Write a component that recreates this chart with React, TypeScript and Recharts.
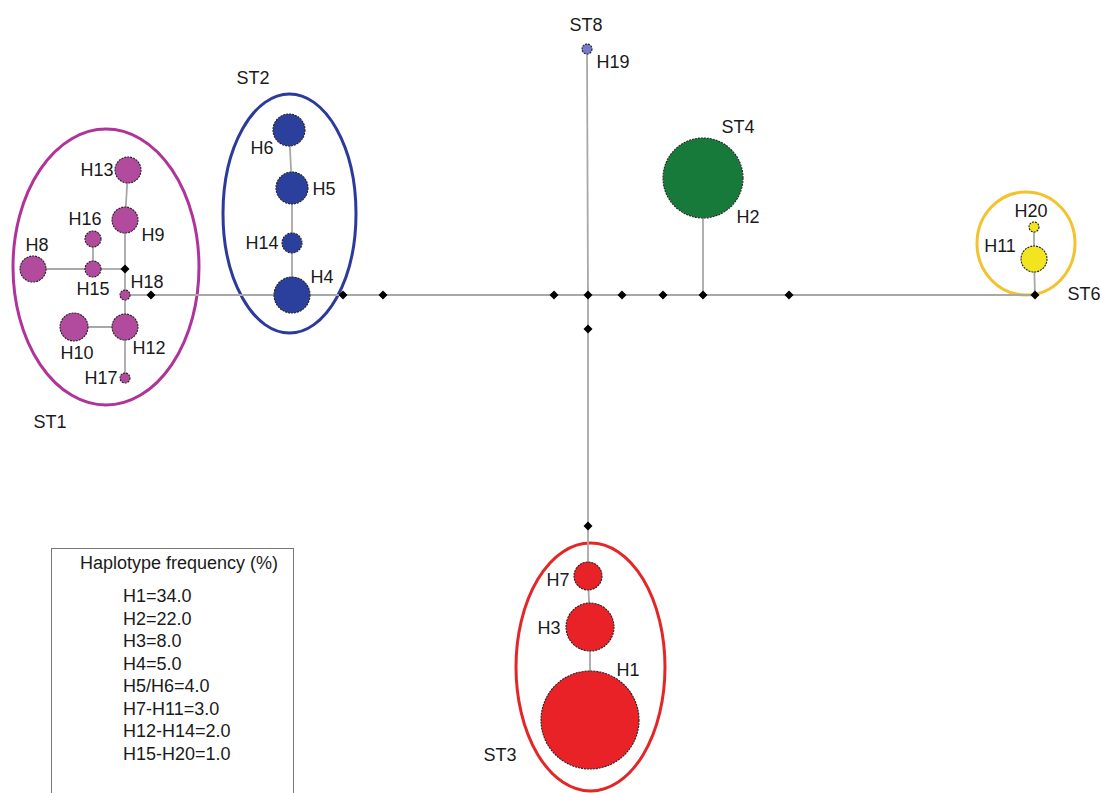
import React from 'react';
import { ScatterChart, Scatter, XAxis, YAxis, ReferenceLine, ReferenceArea } from 'recharts';

const W = 1101;
const H = 793;

// Haplotype nodes (network layout coordinates, radius ~ frequency)
const hapIds = ['H1', 'H2', 'H3', 'H4', 'H5', 'H6', 'H7', 'H8', 'H9', 'H10', 'H11', 'H12', 'H13', 'H14', 'H15', 'H16', 'H17', 'H18', 'H19', 'H20'];
const hapX = [590, 703, 590, 292, 292, 289, 588, 33, 125, 74, 1034, 125, 128, 292, 93, 93, 125, 125, 587, 1034];
const hapY = [720, 178, 627, 295, 188, 130, 576, 269, 220, 327, 259, 327, 170, 243, 269, 239, 378, 295, 49, 227];
const hapR = [49, 40, 24, 18, 16, 16, 14, 13, 13, 14, 13, 13, 13, 10, 8, 8, 5, 5, 5, 5];
const hapGroup = ['ST3', 'ST4', 'ST3', 'ST2', 'ST2', 'ST2', 'ST3', 'ST1', 'ST1', 'ST1', 'ST6', 'ST1', 'ST1', 'ST2', 'ST1', 'ST1', 'ST1', 'ST1', 'ST8', 'ST6'];

// Median vectors (black diamonds)
const mvIds = ['m1', 'm2', 'm3', 'm4', 'm5', 'm6', 'm7', 'm8', 'm9', 'm10', 'm11', 'm12', 'ST6'];
const mvX = [125, 151, 343, 383, 554, 588, 622, 663, 703, 789, 588, 588, 1035];
const mvY = [269, 295, 295, 295, 295, 295, 295, 295, 295, 295, 329, 526, 295];

// Network edges
const edgeFrom = ['H18', 'm2', 'H4', 'm3', 'm4', 'm5', 'm6', 'm7', 'm8', 'm9', 'm10', 'H19', 'm6', 'm11', 'm12', 'H7', 'H3', 'H2', 'H13', 'H9', 'm1', 'H18', 'H12', 'H12', 'm1', 'H15', 'H15', 'H6', 'H5', 'H14', 'H20', 'H11'];
const edgeTo = ['m2', 'H4', 'm3', 'm4', 'm5', 'm6', 'm7', 'm8', 'm9', 'm10', 'ST6', 'm6', 'm11', 'm12', 'H7', 'H3', 'H1', 'm9', 'H9', 'm1', 'H18', 'H12', 'H17', 'H10', 'H15', 'H8', 'H16', 'H5', 'H14', 'H4', 'H11', 'ST6'];

// Sequence-type groups (ellipse bounds)
const groupIds = ['ST1', 'ST2', 'ST3', 'ST6'];
const groupX1 = [13, 223, 516, 977];
const groupX2 = [199, 356, 665, 1075];
const groupY1 = [129, 94, 543, 192];
const groupY2 = [405, 333, 791, 295];

// Text labels
const labelText = ['ST8', 'H19', 'ST4', 'H2', 'H20', 'H11', 'ST6', 'ST2', 'ST1', 'H13', 'H16', 'H9', 'H8', 'H15', 'H18', 'H10', 'H12', 'H17', 'H6', 'H5', 'H14', 'H4', 'H7', 'H3', 'H1', 'ST3'];
const labelX = [586, 613, 738, 748, 1031, 1000, 1084, 253, 50, 97, 85, 153, 37, 93, 147, 77, 149, 101, 262, 324, 262, 322, 558, 549, 628, 500];
const labelY = [25, 62, 127, 217, 211, 246, 294, 78, 422, 170, 219, 235, 245, 289, 282, 353, 348, 378, 148, 189, 243, 277, 580, 628, 670, 755];

// Legend
const legendTitle = 'Haplotype frequency (%)';
const legendLines = ['H1=34.0', 'H2=22.0', 'H3=8.0', 'H4=5.0', 'H5/H6=4.0', 'H7-H11=3.0', 'H12-H14=2.0', 'H15-H20=1.0'];

const fillColors: Record<string, string> = {
  ST1: '#b24a9e',
  ST2: '#2b3f9c',
  ST3: '#e82227',
  ST4: '#177a3b',
  ST6: '#f2e41f',
  ST8: '#7878cc',
};
const ringColors: Record<string, string> = {
  ST1: '#b0339c',
  ST2: '#2c3a9c',
  ST3: '#e42626',
  ST6: '#f3c22e',
};

const FONT = '"Liberation Sans", Arial, Helvetica, sans-serif';

const hapData = hapIds.map((id, i) => ({ id, x: hapX[i], y: hapY[i], r: hapR[i], g: hapGroup[i] }));
const mvData = mvIds.map((id, i) => ({ id, x: mvX[i], y: mvY[i] }));
const labelData = labelText.map((t, i) => ({ t, x: labelX[i], y: labelY[i] }));

const pos: Record<string, { x: number; y: number }> = {};
hapData.forEach((d) => (pos[d.id] = { x: d.x, y: d.y }));
mvData.forEach((d) => (pos[d.id] = { x: d.x, y: d.y }));

const NodeShape = (props: any) => {
  const { cx, cy, payload } = props;
  return (
    <circle cx={cx} cy={cy} r={payload.r} fill={fillColors[payload.g]} stroke="#222" strokeWidth={1.1} strokeDasharray="2 1" />
  );
};

const DiamondShape = (props: any) => {
  const { cx, cy } = props;
  const s = 4.5;
  return <polygon points={`${cx},${cy - s} ${cx + s},${cy} ${cx},${cy + s} ${cx - s},${cy}`} fill="#000" />;
};

const LabelShape = (props: any) => {
  const { cx, cy, payload } = props;
  return (
    <text x={cx} y={cy} textAnchor="middle" dominantBaseline="central" fontFamily={FONT} fontSize={18} fill="#1a1a1a">
      {payload.t}
    </text>
  );
};

export default function App() {
  return (
    <div style={{ position: 'absolute', left: 0, top: 0, width: W, height: H, background: '#fff', overflow: 'hidden' }}>
      <ScatterChart width={W} height={H} margin={{ top: 0, right: 0, bottom: 0, left: 0 }}>
        <XAxis type="number" dataKey="x" domain={[0, W]} hide allowDataOverflow />
        <YAxis type="number" dataKey="y" domain={[0, H]} reversed hide allowDataOverflow />
        {edgeFrom.map((f, i) => (
          <ReferenceLine
            key={'e' + i}
            segment={[pos[f], pos[edgeTo[i]]]}
            stroke="#a8a8a8"
            strokeWidth={1.8}
            ifOverflow="visible"
          />
        ))}
        {groupIds.map((g, i) => (
          <ReferenceArea
            key={g}
            x1={groupX1[i]}
            x2={groupX2[i]}
            y1={groupY1[i]}
            y2={groupY2[i]}
            ifOverflow="visible"
            shape={(p: any) => (
              <ellipse
                cx={p.x + p.width / 2}
                cy={p.y + p.height / 2}
                rx={Math.abs(p.width) / 2}
                ry={Math.abs(p.height) / 2}
                fill="none"
                stroke={ringColors[g]}
                strokeWidth={3}
              />
            )}
          />
        ))}
        <Scatter data={mvData} shape={DiamondShape} isAnimationActive={false} />
        <Scatter data={hapData} shape={NodeShape} isAnimationActive={false} />
        <Scatter data={labelData} shape={LabelShape} isAnimationActive={false} />
      </ScatterChart>
      <div
        style={{
          position: 'absolute',
          left: 51,
          top: 548,
          width: 243,
          height: 260,
          border: '1.5px solid #777',
          fontFamily: FONT,
          fontSize: 18,
          color: '#1a1a1a',
          boxSizing: 'border-box',
        }}
      >
        <div style={{ position: 'absolute', left: 0, width: 254, top: 3, textAlign: 'center', lineHeight: '22.5px' }}>{legendTitle}</div>
        <div style={{ position: 'absolute', left: 71, top: 36, lineHeight: '22.5px' }}>
          {legendLines.map((l) => (
            <div key={l}>{l}</div>
          ))}
        </div>
      </div>
    </div>
  );
}
